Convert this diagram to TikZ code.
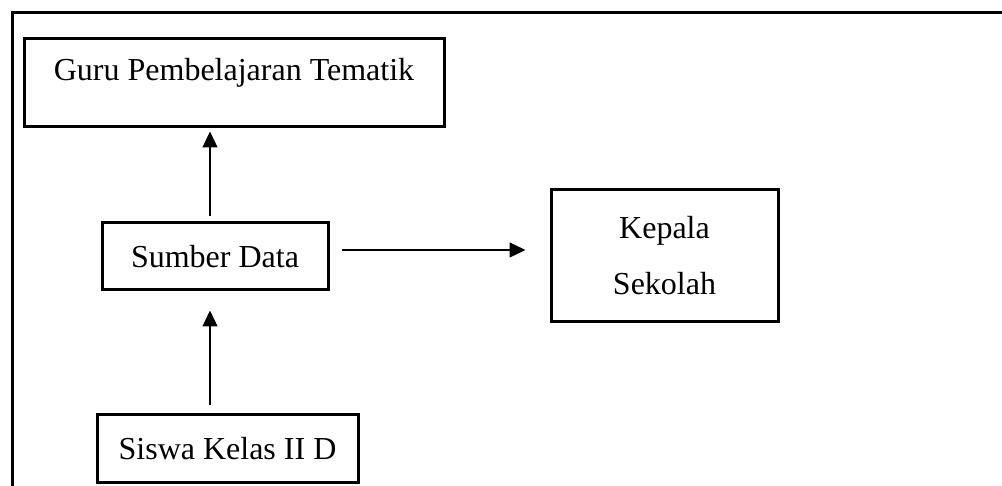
\documentclass[tikz,border=0pt]{standalone}
\usepackage{fontspec}
\setmainfont{Liberation Serif}
\usetikzlibrary{arrows.meta}
\tikzset{
  box/.style={draw=black, line width=3pt, inner sep=0pt, font=\fontsize{32}{38}\selectfont},
  arr/.style={draw=black, line width=1.2pt, -{Triangle[length=16pt,width=15pt]}},
  frame/.style={draw=black, line width=3pt}
}
\begin{document}
\begin{tikzpicture}[x=1pt,y=-1pt]
\useasboundingbox (0,0) rectangle (1002,486);
\draw[frame] (12,486) -- (12,13) -- (1002,13);
\node[box, minimum width=420pt, minimum height=88pt,
      label={[font=\fontsize{32}{38}\selectfont, yshift=10.5pt]center:Guru Pembelajaran Tematik}]
      (guru) at (234,83) {};
\node[box, minimum width=226pt, minimum height=67pt] (sumber) at (215,256.5) {Sumber Data};
\node[box, minimum width=227pt, minimum height=132pt, align=center,
      font=\fontsize{32}{56}\selectfont] (kepala) at (664.5,256) {Kepala\\Sekolah};
\node[box, minimum width=261pt, minimum height=67pt] (siswa) at (227.5,448.5) {Siswa Kelas II D};
\draw[arr, shorten <=5pt, shorten >=3pt] ([xshift=-5pt]sumber.north) -- ([xshift=-5pt]sumber.north |- guru.south);
\draw[arr, shorten <=8pt, shorten >=19pt] ([xshift=-5pt]sumber.south |- siswa.north) -- ([xshift=-5pt]sumber.south);
\draw[arr, shorten <=12pt, shorten >=24pt] ([yshift=6.5pt]sumber.east) -- ([yshift=6.5pt]sumber.east -| kepala.west);
\end{tikzpicture}
\end{document}
